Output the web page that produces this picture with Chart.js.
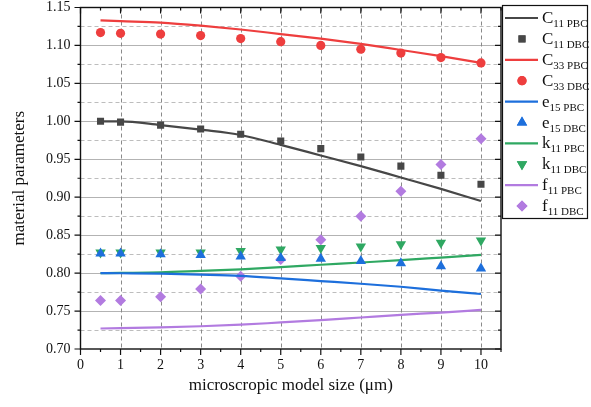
<!DOCTYPE html>
<html>
<head>
<meta charset="utf-8">
<script src="https://cdn.jsdelivr.net/npm/chart.js@4.4.0/dist/chart.umd.min.js"></script>
<style>
  html, body { margin: 0; padding: 0; background: #fff; }
  canvas { display: block; }
</style>
</head>
<body>
<canvas id="paramChart" width="591" height="407"></canvas>
<script>
// model sizes in micrometres
const sizes = [0.5, 1, 2, 3, 4, 5, 6, 7, 8, 9, 10];

// periodic boundary conditions (lines)
const c11Pbc = [1.000, 1.000, 0.995, 0.989, 0.982, 0.969, 0.955, 0.941, 0.926, 0.911, 0.895];
const c33Pbc = [1.133, 1.132, 1.130, 1.126, 1.121, 1.115, 1.109, 1.102, 1.094, 1.086, 1.077];
const e15Pbc = [0.800, 0.7998, 0.7993, 0.798, 0.7963, 0.793, 0.7895, 0.786, 0.782, 0.777, 0.7725];
const k11Pbc = [0.800, 0.8003, 0.801, 0.803, 0.805, 0.808, 0.811, 0.814, 0.817, 0.8205, 0.824];
const f11Pbc = [0.727, 0.7275, 0.7285, 0.730, 0.732, 0.735, 0.738, 0.7415, 0.745, 0.748, 0.7515];

// displacement boundary conditions (markers)
const c11Dbc = [1.000, 0.999, 0.995, 0.990, 0.983, 0.974, 0.964, 0.953, 0.941, 0.929, 0.917];
const c33Dbc = [1.117, 1.116, 1.115, 1.113, 1.109, 1.105, 1.100, 1.095, 1.090, 1.084, 1.077];
const e15Dbc = [0.826, 0.826, 0.825, 0.824, 0.822, 0.820, 0.819, 0.816, 0.813, 0.809, 0.806];
const k11Dbc = [0.827, 0.827, 0.827, 0.827, 0.829, 0.831, 0.833, 0.835, 0.838, 0.840, 0.843];
const f11Dbc = [0.764, 0.764, 0.769, 0.779, 0.796, 0.818, 0.844, 0.875, 0.908, 0.943, 0.977];

const xTicks = [0, 1, 2, 3, 4, 5, 6, 7, 8, 9, 10];
const yTicks = [0.70, 0.75, 0.80, 0.85, 0.90, 0.95, 1.00, 1.05, 1.10, 1.15];

const COL = {
  c11: "#474747",
  c33: "#ee3e3e",
  e15: "#1d6fdc",
  k11: "#2fa862",
  f11: "#b27be0"
};
const SERIF = "'Liberation Serif', 'DejaVu Serif', serif";

function pts(ys) {
  return sizes.map((x, i) => ({ x: x, y: ys[i] }));
}

function lineSet(name, ys, color) {
  return {
    label: name, data: pts(ys), borderColor: color, backgroundColor: color,
    borderWidth: 2.2, pointRadius: 0, showLine: true, fill: false,
    cubicInterpolationMode: "monotone"
  };
}

function markSet(name, ys, color, style, radius, rotation) {
  return {
    label: name, data: pts(ys), borderColor: color, backgroundColor: color,
    showLine: false, pointStyle: style, pointRadius: radius, borderWidth: 0,
    pointRotation: rotation || 0
  };
}

// legend rows: main symbol, subscript, colour, kind
const legendRows = [
  ["C", "11 PBC", COL.c11, "line"],
  ["C", "11 DBC", COL.c11, "rect", 5, 0],
  ["C", "33 PBC", COL.c33, "line"],
  ["C", "33 DBC", COL.c33, "circle", 4.6, 0],
  ["e", "15 PBC", COL.e15, "line"],
  ["e", "15 DBC", COL.e15, "triangle", 6, 0],
  ["k", "11 PBC", COL.k11, "line"],
  ["k", "11 DBC", COL.k11, "triangle", 6, 180],
  ["f", "11 PBC", COL.f11, "line"],
  ["f", "11 DBC", COL.f11, "rectRot", 5.5, 0]
];

// grid lines, frame and tick marks
const framePlugin = {
  id: "frame",
  beforeDatasetsDraw(chart) {
    const { ctx, chartArea: a, scales: { x, y } } = chart;
    ctx.save();
    ctx.lineWidth = 1;
    // horizontal: solid at 0.05, dashed at 0.025
    for (let i = 1; i < 18; i++) {
      const v = 0.70 + i * 0.025;
      const py = Math.round(y.getPixelForValue(v)) + 0.5;
      ctx.beginPath();
      if (i % 2 === 0) {
        ctx.setLineDash([]);
        ctx.strokeStyle = "#b3b3b3";
      } else {
        ctx.setLineDash([4, 3]);
        ctx.strokeStyle = "#bdbdbd";
      }
      ctx.moveTo(a.left, py);
      ctx.lineTo(a.right, py);
      ctx.stroke();
    }
    // vertical dashed at each integer size
    ctx.setLineDash([4, 3]);
    ctx.strokeStyle = "#8a8a8a";
    for (let v = 1; v <= 10; v++) {
      const px = Math.round(x.getPixelForValue(v)) + 0.5;
      ctx.beginPath();
      ctx.moveTo(px, a.top);
      ctx.lineTo(px, a.bottom);
      ctx.stroke();
    }
    ctx.restore();
  },
  afterDatasetsDraw(chart) {
    const { ctx, chartArea: a, scales: { x, y } } = chart;
    ctx.save();
    ctx.strokeStyle = "#111";
    ctx.lineWidth = 1.4;
    ctx.setLineDash([]);
    ctx.strokeRect(a.left, a.top, a.right - a.left, a.bottom - a.top);
    ctx.lineWidth = 1.2;
    ctx.beginPath();
    // y ticks: outward on the left, inward on the right
    for (let i = 0; i <= 18; i++) {
      const v = 0.70 + i * 0.025;
      const py = y.getPixelForValue(v);
      const len = i % 2 === 0 ? 6 : 3;
      ctx.moveTo(a.left - len, py); ctx.lineTo(a.left, py);
      ctx.moveTo(a.right, py); ctx.lineTo(a.right - len, py);
    }
    // x ticks: outward at the bottom, inward at the top
    for (let v = 0; v <= 10.5; v += 0.5) {
      const px = x.getPixelForValue(v);
      const len = v % 1 === 0 ? 6 : 3;
      ctx.moveTo(px, a.bottom); ctx.lineTo(px, a.bottom + len);
      ctx.moveTo(px, a.top); ctx.lineTo(px, a.top + len);
    }
    ctx.stroke();
    ctx.restore();
  },
  afterDraw(chart) {
    const ctx = chart.ctx;
    const bx = 502.5, by = 5.5, bw = 85, bh = 213;
    ctx.save();
    ctx.strokeStyle = "#111";
    ctx.lineWidth = 1.2;
    ctx.strokeRect(bx, by, bw, bh);
    legendRows.forEach((row, i) => {
      const cy = 18 + i * 20.9;
      const [main, sub, color, kind, r, rot] = row;
      if (kind === "line") {
        ctx.strokeStyle = color;
        ctx.lineWidth = 2.2;
        ctx.beginPath();
        ctx.moveTo(505, cy); ctx.lineTo(538, cy);
        ctx.stroke();
      } else {
        ctx.fillStyle = color;
        Chart.helpers.drawPoint(ctx, { pointStyle: kind, radius: r, rotation: rot, borderWidth: 0 }, 522, cy);
        ctx.fill();
      }
      ctx.fillStyle = "#111";
      ctx.textBaseline = "alphabetic";
      ctx.textAlign = "left";
      ctx.font = "17px " + SERIF;
      ctx.fillText(main, 542, cy + 5);
      const w = ctx.measureText(main).width;
      ctx.font = "11px " + SERIF;
      ctx.fillText(sub, 542 + w, cy + 9);
    });
    ctx.restore();
  }
};

new Chart(document.getElementById("paramChart").getContext("2d"), {
  type: "scatter",
  data: {
    datasets: [
      lineSet("C11 PBC", c11Pbc, COL.c11),
      markSet("C11 DBC", c11Dbc, COL.c11, "rect", 5),
      lineSet("C33 PBC", c33Pbc, COL.c33),
      markSet("C33 DBC", c33Dbc, COL.c33, "circle", 4.6),
      lineSet("e15 PBC", e15Pbc, COL.e15),
      markSet("e15 DBC", e15Dbc, COL.e15, "triangle", 6),
      lineSet("k11 PBC", k11Pbc, COL.k11),
      markSet("k11 DBC", k11Dbc, COL.k11, "triangle", 6, 180),
      lineSet("f11 PBC", f11Pbc, COL.f11),
      markSet("f11 DBC", f11Dbc, COL.f11, "rectRot", 5.5)
    ]
  },
  options: {
    responsive: false,
    animation: false,
    layout: { padding: { left: 0, top: 0, right: 90, bottom: 0 } },
    plugins: { legend: { display: false }, tooltip: { enabled: false } },
    scales: {
      x: {
        type: "linear", min: 0, max: 10.5,
        afterBuildTicks: s => { s.ticks = xTicks.map(v => ({ value: v })); },
        afterFit: s => { s.height = 58; s.paddingLeft = 0; s.paddingRight = 0; },
        grid: { display: false, drawTicks: false },
        border: { display: false },
        ticks: { color: "#111", padding: 8, font: { family: SERIF, size: 14 } },
        title: {
          display: true, text: "microscropic model size (μm)", color: "#111",
          font: { family: SERIF, size: 17 }, padding: { top: 0, bottom: 11 }
        }
      },
      y: {
        min: 0.70, max: 1.15,
        afterBuildTicks: s => { s.ticks = yTicks.map(v => ({ value: v })); },
        afterFit: s => { s.width = 80.5; s.paddingTop = 7.5; s.paddingBottom = 0; },
        grid: { display: false, drawTicks: false },
        border: { display: false },
        ticks: {
          color: "#111", padding: 10, font: { family: SERIF, size: 14 },
          callback: v => v.toFixed(2)
        },
        title: {
          display: true, text: "material parameters", color: "#111",
          font: { family: SERIF, size: 17 }, padding: { top: 9, bottom: 0 }
        }
      }
    }
  },
  plugins: [framePlugin]
});
</script>
</body>
</html>
